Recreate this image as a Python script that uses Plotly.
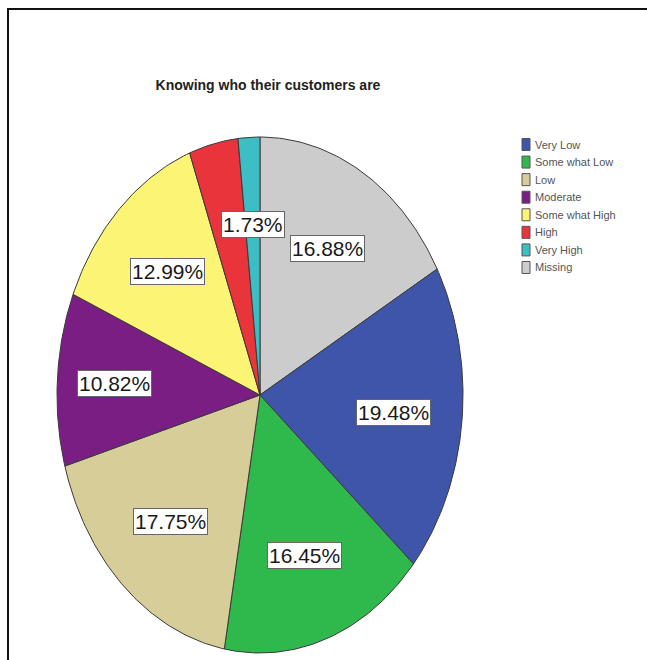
import numpy as np
import plotly.graph_objects as go

# Survey answers for "Knowing who their customers are" (percent of respondents)
categories = ["Very Low", "Some what Low", "Low", "Moderate",
              "Some what High", "High", "Very High", "Missing"]
percent = [19.48, 16.45, 17.75, 10.82, 12.99, 3.90, 1.73, 16.88]
colors = ["#3f55a9", "#2fb84b", "#d7cd99", "#7b1e84",
          "#fbf474", "#e8343a", "#3dbdc4", "#cccccc"]
labelled = [True, True, True, True, True, False, True, True]

# Slices run clockwise from 12 o'clock, starting with "Missing"
draw_order = [7, 0, 1, 2, 3, 4, 5, 6]

W, H = 647, 660
cx_px, cy_px = 260, 395      # pie centre in pixels
rx_px, ry_px = 203, 258      # horizontal / vertical radius in pixels

fig = go.Figure()

total = sum(percent)
start = 0.0
annotations = []
for idx in draw_order:
    frac0 = start / total
    frac1 = (start + percent[idx]) / total
    start += percent[idx]
    th = np.linspace(frac0, frac1, max(8, int(400 * (frac1 - frac0)))) * 2 * np.pi
    xs = np.concatenate([[0], np.sin(th), [0]])
    ys = np.concatenate([[0], np.cos(th), [0]])
    fig.add_trace(go.Scatter(
        x=xs, y=ys, mode="lines", fill="toself",
        fillcolor=colors[idx], line=dict(color="#3a3a3a", width=1),
        name=categories[idx], showlegend=False, hoverinfo="name",
    ))
    if labelled[idx]:
        mid = (frac0 + frac1) / 2 * 2 * np.pi
        # Moderate's label sits a little further out
        r = 0.72 if categories[idx] == "Moderate" else 0.66
        annotations.append(dict(
            x=r * np.sin(mid), y=r * np.cos(mid), xref="x", yref="y",
            text=f"{percent[idx]:.2f}%", showarrow=False,
            font=dict(family="Liberation Sans, Arial", size=21, color="#1a1a1a"),
            bgcolor="white", bordercolor="#666666", borderwidth=1, borderpad=1,
        ))

# Legend: small swatches with labels at the upper right
shapes = []
leg_x0, leg_y0, leg_dy = 522, 144.5, 17.57
for i, (name, col) in enumerate(zip(categories, colors)):
    yc = leg_y0 + i * leg_dy
    shapes.append(dict(
        type="rect", xref="paper", yref="paper",
        x0=leg_x0 / W, x1=(leg_x0 + 8) / W,
        y0=1 - (yc - 6) / H, y1=1 - (yc + 6) / H,
        fillcolor=col, line=dict(color="#555555", width=1),
    ))
    annotations.append(dict(
        x=(leg_x0 + 11) / W, y=1 - yc / H, xref="paper", yref="paper",
        xanchor="left", yanchor="middle", text=name, showarrow=False,
        font=dict(family="Liberation Sans, Arial", size=11, color="#555555"),
    ))

# Outer frame
shapes.append(dict(
    type="rect", xref="paper", yref="paper",
    x0=8 / W, x1=1.05, y0=1 - 9 / H, y1=-0.05,
    line=dict(color="#111111", width=2), fillcolor="rgba(0,0,0,0)", layer="above",
))

# Axis ranges chosen so one unit equals the pixel radii above
x_lo = -cx_px / rx_px
x_hi = x_lo + W / rx_px
y_lo = -(H - cy_px) / ry_px
y_hi = y_lo + H / ry_px

fig.update_layout(
    width=W, height=H,
    margin=dict(l=0, r=0, t=0, b=0),
    paper_bgcolor="white", plot_bgcolor="white",
    xaxis=dict(range=[x_lo, x_hi], visible=False, fixedrange=True),
    yaxis=dict(range=[y_lo, y_hi], visible=False, fixedrange=True),
    title=dict(
        text="<b>Knowing who their customers are</b>",
        x=268 / W, xanchor="center", y=1 - 85 / H, yanchor="middle",
        font=dict(family="Liberation Sans, Arial", size=14, color="#222222"),
    ),
    annotations=annotations,
    shapes=shapes,
    showlegend=False,
)

fig.write_html("out.html")
